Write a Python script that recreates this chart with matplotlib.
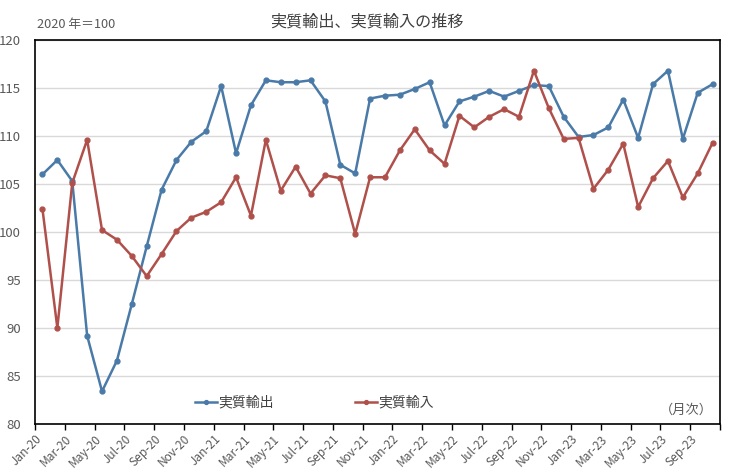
"""
Real exports / real imports index (2020 = 100), monthly
"""

import matplotlib
matplotlib.use("Agg")
import matplotlib.pyplot as plt

plt.rcParams['font.family'] = ['Noto Sans CJK JP', 'DejaVu Sans']

# 0. Data
months = ["Jan-20", "Feb-20", "Mar-20", "Apr-20", "May-20", "Jun-20", "Jul-20", "Aug-20",
          "Sep-20", "Oct-20", "Nov-20", "Dec-20", "Jan-21", "Feb-21", "Mar-21", "Apr-21",
          "May-21", "Jun-21", "Jul-21", "Aug-21", "Sep-21", "Oct-21", "Nov-21", "Dec-21",
          "Jan-22", "Feb-22", "Mar-22", "Apr-22", "May-22", "Jun-22", "Jul-22", "Aug-22",
          "Sep-22", "Oct-22", "Nov-22", "Dec-22", "Jan-23", "Feb-23", "Mar-23", "Apr-23",
          "May-23", "Jun-23", "Jul-23", "Aug-23", "Sep-23", "Oct-23"]

exports = [106.0, 107.5, 105.3, 89.2, 83.4, 86.6, 92.5, 98.5,
           104.4, 107.5, 109.4, 110.5, 115.2, 108.2, 113.2, 115.8,
           115.6, 115.6, 115.8, 113.6, 107.0, 106.1, 113.9, 114.2,
           114.3, 114.9, 115.6, 111.1, 113.6, 114.1, 114.7, 114.1,
           114.7, 115.3, 115.2, 112.0, 109.9, 110.1, 110.9, 113.8,
           109.8, 115.4, 116.8, 109.7, 114.5, 115.4]

imports = [102.4, 90.0, 105.1, 109.6, 100.2, 99.2, 97.5, 95.4,
           97.7, 100.1, 101.5, 102.1, 103.1, 105.7, 101.7, 109.6,
           104.3, 106.8, 104.0, 105.9, 105.6, 99.8, 105.7, 105.7,
           108.5, 110.7, 108.5, 107.1, 112.1, 110.9, 112.0, 112.8,
           112.0, 116.8, 112.9, 109.7, 109.8, 104.5, 106.5, 109.2,
           102.6, 105.6, 107.4, 103.6, 106.1, 109.3]

BLUE = '#4a7aa8'
RED = '#b0504b'
GRAY = '#595959'

# 1. Figure / axes
fig = plt.figure(figsize=(7.34, 4.75), dpi=100)
ax = fig.add_axes([0.0477, 0.1074, 0.9333, 0.8084])

x = list(range(len(months)))
ax.plot(x, exports, color=BLUE, lw=1.8, marker='o', ms=3.5, label='実質輸出')
ax.plot(x, imports, color=RED, lw=1.8, marker='o', ms=3.5, label='実質輸入')

ax.set_xlim(-0.5, len(months) - 0.5)
ax.set_ylim(80, 120)
ax.set_yticks(range(80, 121, 5))
ax.grid(axis='y', color='#d9d9d9', lw=1)
ax.set_axisbelow(True)

# category axis: ticks between categories, label every 2 months
tick_pos = [i - 0.5 for i in range(0, len(months) + 1, 2)]
tick_lab = [months[i] if i < len(months) else '' for i in range(0, len(months) + 1, 2)]
ax.set_xticks(tick_pos)
ax.set_xticklabels(tick_lab, rotation=45, ha='right', rotation_mode='anchor')

ax.tick_params(axis='x', length=4, width=1, colors='black', labelcolor=GRAY,
               labelsize=8.5, pad=2)
ax.tick_params(axis='y', length=0, labelcolor=GRAY, labelsize=9.5, pad=10)

for s in ax.spines.values():
    s.set_color('black')
    s.set_linewidth(1.2)

# 2. Legend + annotations
leg = ax.legend(loc='center', bbox_to_anchor=(0.408, 0.055), ncol=2, frameon=False,
                handlelength=1.6, handletextpad=0.1, columnspacing=5.8,
                fontsize=10, markerscale=0.8)
for t in leg.get_texts():
    t.set_color('#404040')

ax.text(0.99, 0.036, '（月次）', transform=ax.transAxes, ha='right', va='center',
        fontsize=9.5, color=GRAY)

fig.text(0.5, 0.954, '実質輸出、実質輸入の推移', ha='center', va='center',
         fontsize=11.6, color='#404040')
fig.text(0.05, 0.948, '2020 年＝100', ha='left', va='center', fontsize=9.2, color=GRAY)

fig.savefig('out.png', dpi=100)
plt.close(fig)
